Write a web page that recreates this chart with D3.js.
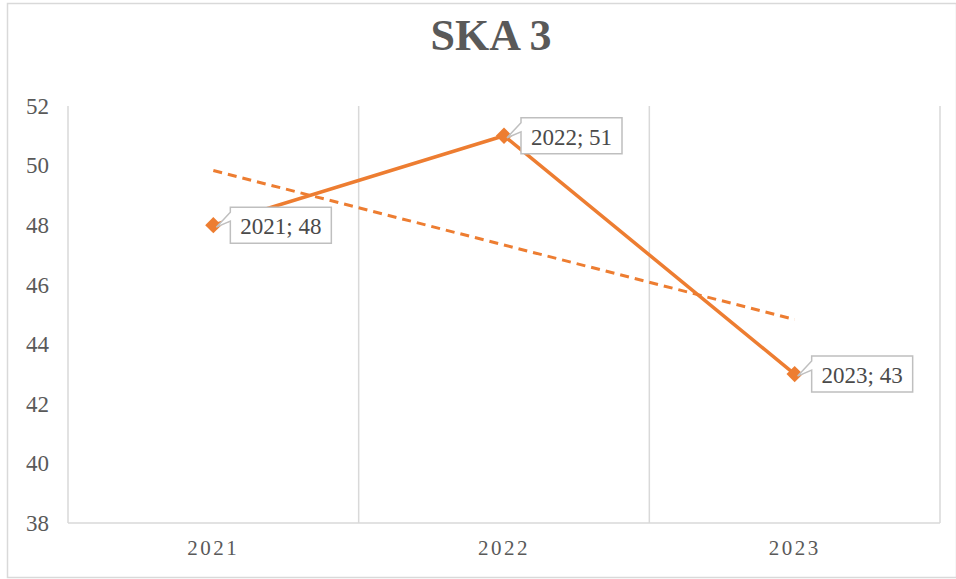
<!DOCTYPE html>
<html lang="en">
<head>
    <meta charset="utf-8">
    <title>SKA 3</title>
    <style type="text/css">
        body { margin: 0; background: #fff; }
        .chart text { font-family: "Liberation Serif", "Times New Roman", serif; }
        .grid line { stroke: #d9d9d9; stroke-width: 1.5; }
        .axis-y text { fill: #595959; font-size: 23px; }
        .axis-x text { fill: #595959; font-size: 21px; letter-spacing: 2.5px; }
        .label rect, .label path { fill: #fff; stroke: #bfbfbf; stroke-width: 1.5; }
        .label text { fill: #4a4a4a; font-size: 23px; }
    </style>
</head>
<body>
   <svg class="chart" width="956" height="579"></svg>

   <script src="https://d3js.org/d3.v7.min.js"></script>
   <script>
        // data
        var years = ['2021', '2022', '2023'];
        var values = [48, 51, 43];
        var yTicks = [38, 40, 42, 44, 46, 48, 50, 52];
        var title = 'SKA 3';

        var svg = d3.select('.chart'),
            width = +svg.attr('width'),
            height = +svg.attr('height'),
            padding = {top: 106, right: 16, bottom: 56, left: 68},
            plot_w = width - padding.left - padding.right,
            plot_h = height - padding.top - padding.bottom;

        var color = '#ED7D31';

        // outer border
        svg.append('rect')
            .attr('x', 7.5).attr('y', 3.5)
            .attr('width', width - 7).attr('height', height - 5)
            .attr('fill', '#fff')
            .attr('stroke', '#d9d9d9')
            .attr('stroke-width', 1.5);

        // title
        svg.append('text')
            .attr('x', 491)
            .attr('y', 50)
            .attr('text-anchor', 'middle')
            .attr('font-size', 44)
            .attr('font-weight', 'bold')
            .attr('fill', '#595959')
            .text(title);

        var g = svg.append('g')
            .attr('transform', 'translate(' + padding.left + ',' + padding.top + ')');

        // scales
        var x = d3.scaleBand().domain(years).range([0, plot_w]);
        var y = d3.scaleLinear().domain([38, 52]).range([plot_h, 0]);

        // vertical grid at category boundaries
        var bounds = years.map(function(d) { return x(d); }).concat([plot_w]);
        g.append('g').attr('class', 'grid')
            .selectAll('line')
            .data(bounds)
            .enter().append('line')
            .attr('x1', function(d) { return d; })
            .attr('x2', function(d) { return d; })
            .attr('y1', 0)
            .attr('y2', plot_h);

        g.append('g').attr('class', 'grid')
            .append('line')
            .attr('x1', 0).attr('x2', plot_w)
            .attr('y1', plot_h).attr('y2', plot_h);

        // axes
        var yAxis = d3.axisLeft(y).tickValues(yTicks).tickSize(0).tickPadding(19);
        g.append('g').attr('class', 'axis-y').call(yAxis)
            .call(function(s) { s.select('.domain').remove(); });

        var xAxis = d3.axisBottom(x).tickSize(0).tickPadding(17);
        g.append('g').attr('class', 'axis-x')
            .attr('transform', 'translate(0,' + plot_h + ')')
            .call(xAxis)
            .call(function(s) { s.select('.domain').remove(); });

        var cx = function(d, i) { return x(years[i]) + x.bandwidth() / 2; };

        // linear trend (least squares on index)
        var n = values.length,
            mx = d3.mean(values, function(d, i) { return i; }),
            my = d3.mean(values),
            slope = d3.sum(values, function(d, i) { return (i - mx) * (d - my); }) /
                    d3.sum(values, function(d, i) { return (i - mx) * (i - mx); }),
            icpt = my - slope * mx;
        var trend = values.map(function(d, i) { return icpt + slope * i; });

        var line = d3.line()
            .x(function(d, i) { return cx(d, i); })
            .y(function(d) { return y(d); });

        g.append('path')
            .datum([trend[0], trend[n - 1]])
            .attr('d', d3.line()
                .x(function(d, i) { return cx(d, i === 0 ? 0 : n - 1); })
                .y(function(d) { return y(d); }))
            .attr('fill', 'none')
            .attr('stroke', color)
            .attr('stroke-width', 3)
            .attr('stroke-dasharray', '9,6');

        g.append('path')
            .datum(values)
            .attr('d', line)
            .attr('fill', 'none')
            .attr('stroke', color)
            .attr('stroke-width', 3.5)
            .attr('stroke-linejoin', 'round');

        g.selectAll('.marker')
            .data(values)
            .enter().append('path')
            .attr('class', 'marker')
            .attr('d', d3.symbol().type(d3.symbolDiamond2).size(170))
            .attr('transform', function(d, i) { return 'translate(' + cx(d, i) + ',' + y(d) + ')'; })
            .attr('fill', color);

        // data labels (callouts)
        var bw = 101, bh = 36;
        var labels = g.selectAll('.label')
            .data(values)
            .enter().append('g')
            .attr('class', 'label')
            .attr('transform', function(d, i) {
                return 'translate(' + (cx(d, i) + 17) + ',' + (y(d) - 18) + ')';
            });

        labels.append('path')
            .attr('d', 'M0,0 H' + bw + ' V' + bh + ' H0 V14 L-14,20 L0,5 Z')
            .attr('stroke-linejoin', 'miter');

        labels.append('text')
            .attr('x', bw / 2)
            .attr('y', 27)
            .attr('text-anchor', 'middle')
            .text(function(d, i) { return years[i] + '; ' + d; });
   </script>
</body>
</html>
